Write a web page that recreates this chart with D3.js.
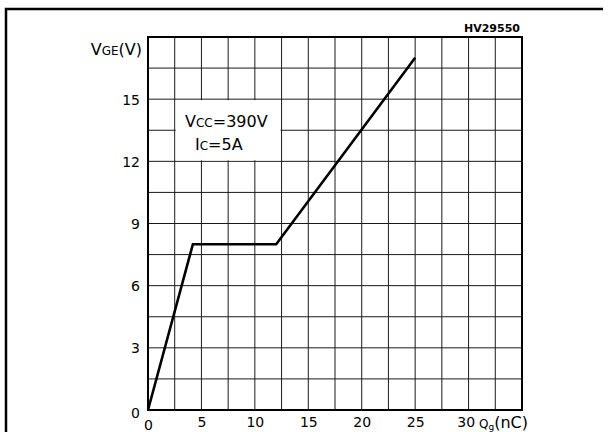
<!DOCTYPE html>
<html>
<head>
<meta charset="utf-8">
<script src="https://cdn.jsdelivr.net/npm/d3@7"></script>
<style>
  html, body { margin: 0; padding: 0; background: #fff; }
  svg { display: block; }
  text { font-family: "DejaVu Sans", "Liberation Sans", sans-serif; fill: #000; }
</style>
</head>
<body>
<svg id="chart" width="614" height="432"></svg>
<script>
// Gate charge curve: gate-emitter voltage vs. total gate charge
const qg = [0, 4.2, 12, 25];          // nC
const vge = [0, 8, 8, 17];            // V
const xTicks = [0, 5, 10, 15, 20, 25, 30];
const yTicks = [0, 3, 6, 9, 12, 15];
const xGrid = d3.range(0, 35.01, 2.5);
const yGrid = d3.range(0, 18.01, 1.5);

const svg = d3.select("#chart");
const W = 614, H = 432;
const plot = { left: 148, right: 522, top: 37, bottom: 410 };

const x = d3.scaleLinear().domain([0, 35]).range([plot.left, plot.right]);
const y = d3.scaleLinear().domain([0, 18]).range([plot.bottom, plot.top]);

svg.append("rect").attr("width", W).attr("height", H).attr("fill", "#fff");

// outer frame (top and left edges)
svg.append("path")
  .attr("d", `M6,${H} V9 H603`)
  .attr("fill", "none").attr("stroke", "#000").attr("stroke-width", 2.5);

// grid
const grid = svg.append("g").attr("stroke", "#1a1a1a").attr("stroke-width", 1);
grid.selectAll("line.v").data(xGrid).join("line")
  .attr("x1", d => x(d)).attr("x2", d => x(d))
  .attr("y1", plot.top).attr("y2", plot.bottom);
grid.selectAll("line.h").data(yGrid).join("line")
  .attr("y1", d => y(d)).attr("y2", d => y(d))
  .attr("x1", plot.left).attr("x2", plot.right);

// condition label box (blanks out the grid behind it)
svg.append("rect")
  .attr("x", x(2.5) + 1).attr("y", y(15) + 1)
  .attr("width", x(12.5) - x(2.5) - 2).attr("height", y(12) - y(15) - 2)
  .attr("fill", "#fff");

const cond = svg.append("g").style("font-size", "16px");
const t1 = cond.append("text").attr("x", 185).attr("y", 127);
t1.append("tspan").text("V");
t1.append("tspan").style("font-size", "12px").text("CC");
t1.append("tspan").text("=390V");
const t2 = cond.append("text").attr("x", 195).attr("y", 150);
t2.append("tspan").text("I");
t2.append("tspan").style("font-size", "12px").text("C");
t2.append("tspan").text("=5A");

// plot border
svg.append("rect")
  .attr("x", plot.left).attr("y", plot.top)
  .attr("width", plot.right - plot.left).attr("height", plot.bottom - plot.top)
  .attr("fill", "none").attr("stroke", "#000").attr("stroke-width", 2);

// tick labels via d3 axes (no domain path / tick lines)
const yAxis = svg.append("g")
  .attr("transform", `translate(${plot.left},0)`)
  .call(d3.axisLeft(y).tickValues(yTicks).tickSize(0).tickPadding(8).tickFormat(d3.format("d")));
yAxis.select(".domain").remove();
yAxis.selectAll("text").style("font-size", "14px").style("font-family", "'DejaVu Sans', sans-serif")
  .attr("dy", d => d === 0 ? "0.55em" : "0.36em");

const xAxis = svg.append("g")
  .attr("transform", `translate(0,${plot.bottom})`)
  .call(d3.axisBottom(x).tickValues(xTicks).tickSize(0).tickPadding(7).tickFormat(d3.format("d")));
xAxis.select(".domain").remove();
xAxis.selectAll("text").style("font-size", "14px").style("font-family", "'DejaVu Sans', sans-serif")
  .attr("dx", d => d === 30 ? "-0.2em" : 0)
  .attr("dy", d => d === 0 ? "0.9em" : "0.71em");

// axis titles
const yt = svg.append("text").attr("x", 142).attr("y", 55).attr("text-anchor", "end").style("font-size", "16px");
yt.append("tspan").text("V");
yt.append("tspan").style("font-size", "12px").text("GE");
yt.append("tspan").text("(V)");

const xt = svg.append("text").attr("x", 479).attr("y", 428).style("font-size", "16px");
xt.append("tspan").style("font-size", "12px").text("Q");
xt.append("tspan").style("font-size", "9px").attr("dy", 2).text("g");
xt.append("tspan").attr("dy", -2).text("(nC)");

// part number
svg.append("text").attr("x", 520).attr("y", 32).attr("text-anchor", "end")
  .style("font-size", "11px").style("font-weight", "bold").text("HV29550");

// curve
const line = d3.line().x((d, i) => x(qg[i])).y(d => y(d));
svg.append("path")
  .datum(vge)
  .attr("d", line)
  .attr("fill", "none").attr("stroke", "#000").attr("stroke-width", 2.6)
  .attr("stroke-linejoin", "miter");
</script>
</body>
</html>
